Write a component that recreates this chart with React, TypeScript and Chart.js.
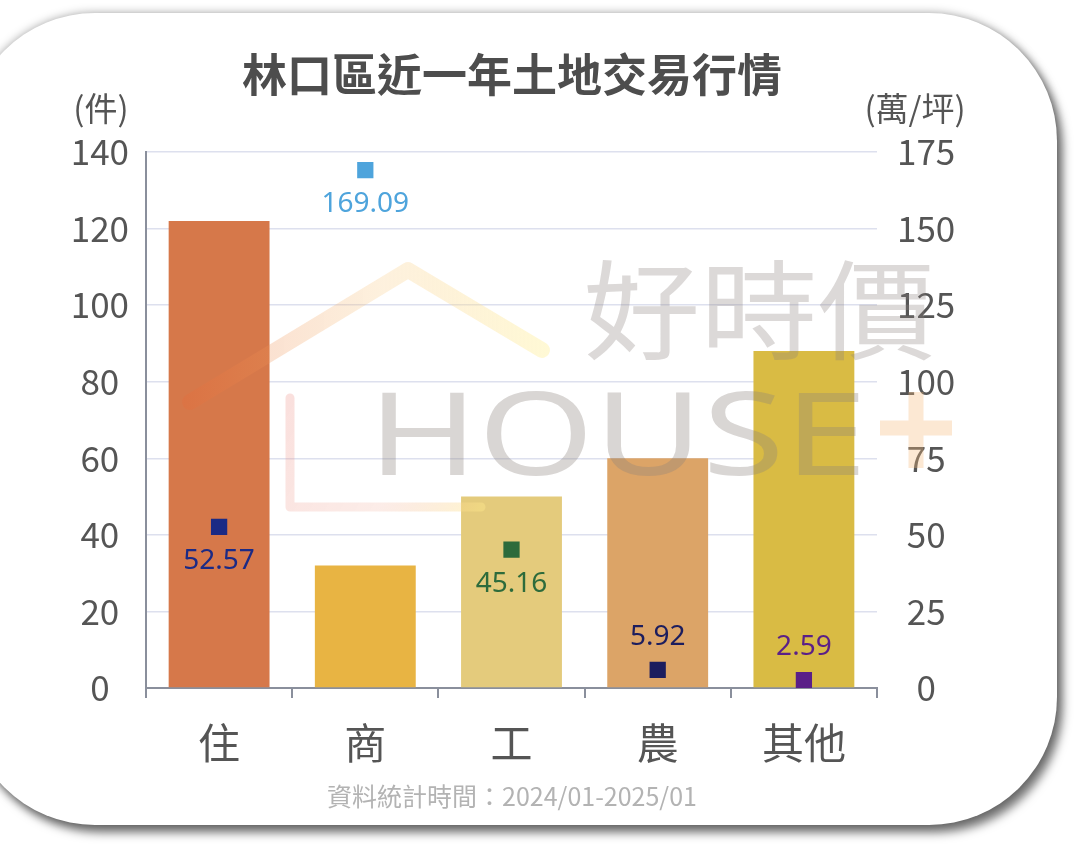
import React, { useEffect, useRef } from 'react';
import { Chart, registerables } from 'chart.js';

Chart.register(...registerables);

// ---------- texts ----------
const TITLE = '林口區近一年土地交易行情';
const FOOTNOTE = '資料統計時間：2024/01-2025/01';
const LEFT_UNIT = '(件)';
const RIGHT_UNIT = '(萬/坪)';
const WATERMARK_CJK = '好時價';
const WATERMARK_LATIN = 'HOUSE';

// ---------- data ----------
const categories = ['住', '商', '工', '農', '其他'];
const transactionCounts = [122, 32, 50, 60, 88];
const pricePerPing = [52.57, 169.09, 45.16, 5.92, 2.59];
const countTicks = [0, 20, 40, 60, 80, 100, 120, 140];
const priceTicks = [0, 25, 50, 75, 100, 125, 150, 175];

// ---------- styles ----------
const barColors = ['#d6784a', '#e8b443', '#e4cb7c', '#dca467', '#d9bb44'];
const pointColors = ['#1b2a85', '#4ea4dc', '#2d6b3b', '#1c1d5e', '#5a1f88'];
const labelPlacement = ['below', 'below', 'below', 'above', 'above'];

const CJK = '"Noto Sans CJK TC", "Noto Sans CJK SC", "Noto Sans", sans-serif';
const TEXT = '#555555';
const AXIS = '#8a8f9c';
const GRID = '#dde0ee';

const watermarkPlugin = {
  id: 'watermark',
  afterDatasetsDraw(chart: any) {
    const ctx: CanvasRenderingContext2D = chart.ctx;
    ctx.save();
    // roof
    const rg = ctx.createLinearGradient(185, 0, 545, 0);
    rg.addColorStop(0, 'rgba(232,105,55,0.28)');
    rg.addColorStop(0.55, 'rgba(248,200,125,0.26)');
    rg.addColorStop(1, 'rgba(255,240,155,0.42)');
    ctx.strokeStyle = rg;
    ctx.lineWidth = 16;
    ctx.lineCap = 'round';
    ctx.lineJoin = 'round';
    ctx.beginPath();
    ctx.moveTo(190, 402);
    ctx.lineTo(408, 270);
    ctx.lineTo(542, 350);
    ctx.stroke();
    // L
    const lg = ctx.createLinearGradient(290, 398, 481, 507);
    lg.addColorStop(0, 'rgba(236,135,125,0.26)');
    lg.addColorStop(0.6, 'rgba(240,170,150,0.22)');
    lg.addColorStop(1, 'rgba(255,232,140,0.42)');
    ctx.strokeStyle = lg;
    ctx.lineWidth = 9;
    ctx.beginPath();
    ctx.moveTo(290, 398);
    ctx.lineTo(290, 507);
    ctx.lineTo(481, 507);
    ctx.stroke();
    // HOUSE
    ctx.fillStyle = 'rgba(140,130,125,0.33)';
    ctx.font = '115px "Noto Sans", "DejaVu Sans", sans-serif';
    ctx.textBaseline = 'alphabetic';
    ctx.textAlign = 'left';
    let w = ctx.measureText(WATERMARK_LATIN).width;
    ctx.save();
    ctx.translate(368, 475);
    ctx.scale(499 / w, 1);
    ctx.fillText(WATERMARK_LATIN, 0, 0);
    ctx.restore();
    // 好時價
    ctx.fillStyle = 'rgba(140,130,125,0.30)';
    ctx.font = '108px ' + CJK;
    ctx.textBaseline = 'middle';
    w = ctx.measureText(WATERMARK_CJK).width;
    ctx.save();
    ctx.translate(583, 310);
    ctx.scale(352 / w, 1);
    ctx.fillText(WATERMARK_CJK, 0, 0);
    ctx.restore();
    // plus
    ctx.strokeStyle = 'rgba(245,185,120,0.33)';
    ctx.lineWidth = 15;
    ctx.lineCap = 'butt';
    ctx.beginPath();
    ctx.moveTo(880, 428);
    ctx.lineTo(952, 428);
    ctx.moveTo(916, 392);
    ctx.lineTo(916, 468);
    ctx.stroke();
    ctx.restore();
  },
};

const valueLabelPlugin = {
  id: 'valueLabels',
  afterDatasetsDraw(chart: any) {
    const ctx: CanvasRenderingContext2D = chart.ctx;
    const meta = chart.getDatasetMeta(1);
    ctx.save();
    ctx.font = '28px "Noto Sans", ' + CJK;
    ctx.textAlign = 'center';
    ctx.textBaseline = 'middle';
    meta.data.forEach((pt: any, i: number) => {
      const v = pricePerPing[i];
      ctx.fillStyle = pointColors[i];
      const dy = labelPlacement[i] === 'above' ? -33 : 34;
      ctx.fillText(v.toFixed(2), pt.x, pt.y + dy);
    });
    ctx.restore();
  },
};

const unitPlugin = {
  id: 'units',
  afterDraw(chart: any) {
    const ctx: CanvasRenderingContext2D = chart.ctx;
    const area = chart.chartArea;
    ctx.save();
    ctx.font = '33px ' + CJK;
    ctx.fillStyle = TEXT;
    ctx.textAlign = 'center';
    ctx.textBaseline = 'middle';
    ctx.fillText(LEFT_UNIT, area.left - 45, area.top - 44);
    ctx.fillText(RIGHT_UNIT, area.right + 38, area.top - 44);
    ctx.restore();
  },
};

export default function App() {
  const ref = useRef<HTMLCanvasElement>(null);
  useEffect(() => {
    document.body.style.margin = '0';
    Chart.defaults.font.family = CJK;
    const chart = new Chart(ref.current as HTMLCanvasElement, {
      type: 'bar',
      data: {
        labels: categories,
        datasets: [
          {
            type: 'bar',
            label: '件數',
            data: transactionCounts,
            backgroundColor: barColors,
            borderWidth: 0,
            barPercentage: 0.69,
            categoryPercentage: 1,
            yAxisID: 'y',
            order: 1,
          },
          {
            type: 'line',
            label: '萬/坪',
            data: pricePerPing,
            yAxisID: 'y1',
            showLine: false,
            pointStyle: 'rect',
            pointRadius: 11.5,
            pointHoverRadius: 11.5,
            pointBorderWidth: 0,
            pointBackgroundColor: pointColors,
            borderColor: 'transparent',
            order: 0,
          } as any,
        ],
      },
      options: {
        responsive: false,
        animation: false,
        devicePixelRatio: 1,
        layout: { padding: { top: 13, bottom: 45, left: 0, right: 56 } },
        plugins: {
          legend: { display: false },
          tooltip: { enabled: false },
          title: {
            display: true,
            text: TITLE,
            color: '#4d4d4d',
            font: { size: 45, weight: 'bold', family: CJK },
            padding: { top: 35, bottom: 50 },
          },
          subtitle: {
            display: true,
            position: 'bottom',
            text: FOOTNOTE,
            color: '#b3b3b3',
            font: { size: 25, family: CJK },
            padding: { top: 13, bottom: 0 },
          },
        },
        scales: {
          x: {
            grid: {
              display: true,
              drawOnChartArea: false,
              drawTicks: true,
              tickLength: 10,
              offset: true,
              color: AXIS,
              lineWidth: 2,
            },
            border: { display: true, color: AXIS, width: 2 },
            ticks: { color: TEXT, font: { size: 42, family: CJK }, padding: 20 },
            afterFit: (s: any) => {
              s.height = 80;
            },
          },
          y: {
            position: 'left',
            min: countTicks[0],
            max: countTicks[countTicks.length - 1],
            ticks: {
              stepSize: countTicks[1] - countTicks[0],
              color: TEXT,
              font: { size: 35, family: CJK },
              padding: 17,
              crossAlign: 'center',
            },
            grid: { color: GRID, lineWidth: 1.5, drawTicks: false },
            border: { display: true, color: AXIS, width: 2 },
            afterFit: (s: any) => {
              s.width = 146;
            },
          },
          y1: {
            position: 'right',
            min: priceTicks[0],
            max: priceTicks[priceTicks.length - 1],
            ticks: {
              stepSize: priceTicks[1] - priceTicks[0],
              color: TEXT,
              font: { size: 35, family: CJK },
              padding: 20,
              crossAlign: 'center',
            },
            grid: { display: false, drawTicks: false },
            border: { display: false },
            afterFit: (s: any) => {
              s.width = 147;
            },
          },
        },
      } as any,
      plugins: [watermarkPlugin, valueLabelPlugin, unitPlugin],
    });
    return () => chart.destroy();
  }, []);

  return (
    <div
      style={{
        position: 'fixed',
        left: 0,
        top: 0,
        width: 1080,
        height: 856,
        overflow: 'hidden',
        background: '#ffffff',
      }}
    >
      <div
        style={{
          position: 'absolute',
          left: -33,
          top: 13,
          width: 1090,
          height: 812,
          borderRadius: 128,
          background: '#ffffff',
          boxShadow: '0 0 10px rgba(0,0,0,0.35), 6px 8px 10px rgba(0,0,0,0.5)',
        }}
      />
      <canvas
        ref={ref}
        width={1080}
        height={856}
        style={{ position: 'absolute', left: 0, top: 0, width: 1080, height: 856 }}
      />
    </div>
  );
}
